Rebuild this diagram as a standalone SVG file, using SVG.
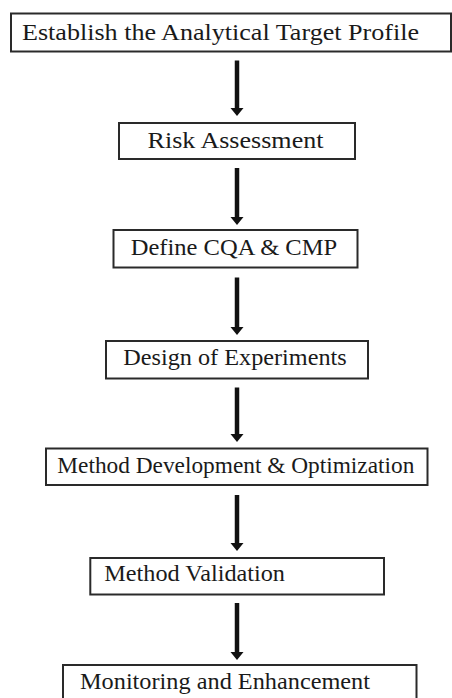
<svg xmlns="http://www.w3.org/2000/svg" width="452" height="698" viewBox="0 0 452 698">
<style>
.box{fill:#fff;stroke:#2a2a2a;stroke-width:2}
.lbl{font-family:"Liberation Serif","Times New Roman",serif;font-size:22.5px;fill:#1a1a1a}
.shaft{stroke:#111;stroke-width:4.5;fill:none}
.head{fill:#111}
</style>
<rect width="452" height="698" fill="#fff"/>
<g id="connectors">
<g id="a1"><line class="shaft" x1="237" y1="60.5" x2="237" y2="109"/><polygon class="head" points="230.5,108 243.5,108 237,116"/></g>
<g id="a2"><line class="shaft" x1="237" y1="168" x2="237" y2="218"/><polygon class="head" points="230.5,217 243.5,217 237,225"/></g>
<g id="a3"><line class="shaft" x1="237" y1="277.5" x2="237" y2="328"/><polygon class="head" points="230.5,327 243.5,327 237,335"/></g>
<g id="a4"><line class="shaft" x1="237" y1="387.5" x2="237" y2="435"/><polygon class="head" points="230.5,434 243.5,434 237,442"/></g>
<g id="a5"><line class="shaft" x1="237" y1="495" x2="237" y2="544"/><polygon class="head" points="230.5,543 243.5,543 237,551"/></g>
<g id="a6"><line class="shaft" x1="237" y1="603" x2="237" y2="653"/><polygon class="head" points="230.5,652 243.5,652 237,660"/></g>
</g>
<g id="n1"><rect class="box" x="11" y="13.5" width="440" height="38"/><text class="lbl" x="22" y="39.5" textLength="397" lengthAdjust="spacingAndGlyphs">Establish the Analytical Target Profile</text></g>
<g id="n2"><rect class="box" x="119" y="123" width="236" height="36"/><text class="lbl" x="147.5" y="147.5" textLength="176" lengthAdjust="spacingAndGlyphs">Risk Assessment</text></g>
<g id="n3"><rect class="box" x="113.5" y="230" width="244" height="37.5"/><text class="lbl" x="130.7" y="255" textLength="206.5" lengthAdjust="spacingAndGlyphs">Define CQA &amp; CMP</text></g>
<g id="n4"><rect class="box" x="106" y="341" width="262" height="37.5"/><text class="lbl" x="123.3" y="365" textLength="223.4" lengthAdjust="spacingAndGlyphs">Design of Experiments</text></g>
<g id="n5"><rect class="box" x="46" y="448.5" width="381.5" height="36.5"/><text class="lbl" x="57.3" y="472.5" textLength="357" lengthAdjust="spacingAndGlyphs">Method Development &amp; Optimization</text></g>
<g id="n6"><rect class="box" x="90.3" y="558" width="293.7" height="36.5"/><text class="lbl" x="104.3" y="580.5" textLength="180.7" lengthAdjust="spacingAndGlyphs">Method Validation</text></g>
<g id="n7"><rect class="box" x="63" y="665" width="353.5" height="40"/><text class="lbl" x="80" y="689" textLength="290" lengthAdjust="spacingAndGlyphs">Monitoring and Enhancement</text></g>
</svg>
